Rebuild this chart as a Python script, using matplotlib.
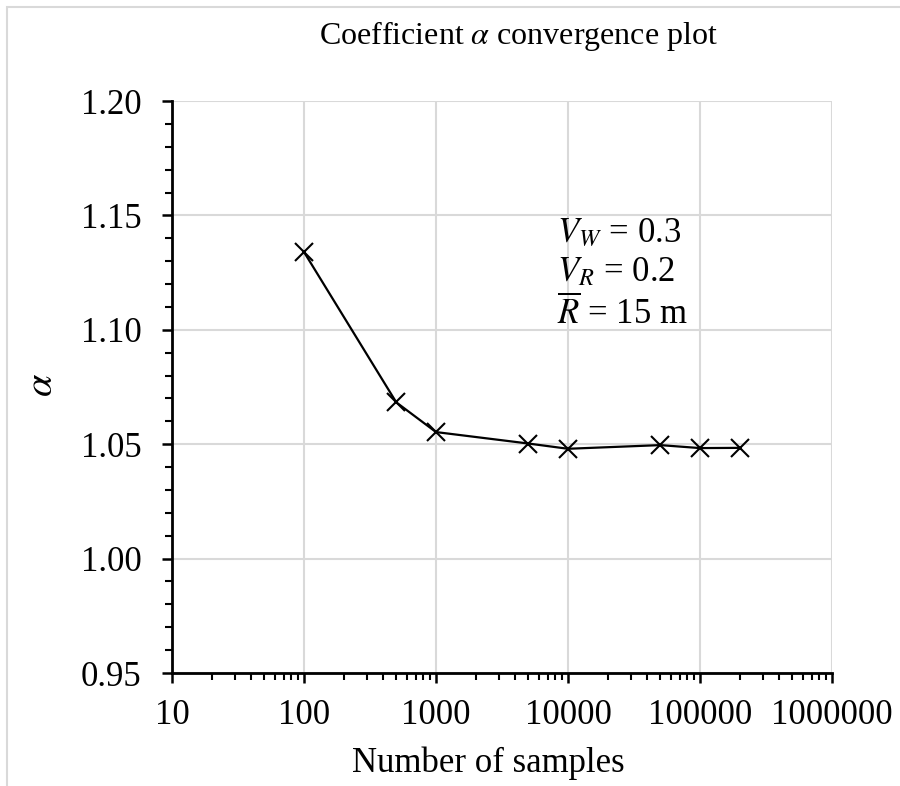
import matplotlib
matplotlib.use("Agg")
import matplotlib.pyplot as plt
from matplotlib.patches import Rectangle
from matplotlib.ticker import LogLocator, MultipleLocator, FixedLocator, FixedFormatter

plt.rcParams['font.family'] = ['Liberation Serif', 'DejaVu Serif']
plt.rcParams['mathtext.fontset'] = 'stix'

# convergence data
samples = [100, 500, 1000, 5000, 10000, 50000, 100000, 200000]
alpha = [1.134, 1.0683, 1.0553, 1.0503, 1.0480, 1.0496, 1.0483, 1.0484]

x_ticks = [10, 100, 1000, 10000, 100000, 1000000]
x_labels = ['10', '100', '1000', '10000', '100000', '1000000']
y_ticks = [0.95, 1.00, 1.05, 1.10, 1.15, 1.20]
y_labels = ['0.95', '1.00', '1.05', '1.10', '1.15', '1.20']

W, H = 900, 786
fig = plt.figure(figsize=(W / 100, H / 100), dpi=100)
ax = fig.add_axes([172 / W, 1 - 673 / H, 660 / W, 572 / H])

# outer chart frame
fig.patches.append(Rectangle((7 / W, -0.1), 1.2, 1 - 7 / H + 0.1,
                             transform=fig.transFigure, fill=False,
                             edgecolor='#d9d9d9', linewidth=1.5))

ax.plot(samples, alpha, color='black', linewidth=1.6, marker='x',
        markersize=13, markeredgewidth=1.5, zorder=3)

ax.set_xscale('log')
ax.set_xlim(10, 1000000)
ax.set_ylim(0.95, 1.20)

ax.xaxis.set_major_locator(FixedLocator(x_ticks))
ax.xaxis.set_major_formatter(FixedFormatter(x_labels))
ax.xaxis.set_minor_locator(LogLocator(base=10, subs=range(2, 10), numticks=20))
ax.xaxis.set_minor_formatter(plt.NullFormatter())
ax.yaxis.set_major_locator(FixedLocator(y_ticks))
ax.yaxis.set_major_formatter(FixedFormatter(y_labels))
ax.yaxis.set_minor_locator(MultipleLocator(0.01))

ax.grid(True, which='major', color='#d9d9d9', linewidth=1.5, zorder=0)
ax.set_axisbelow(True)

for side in ['top', 'right']:
    ax.spines[side].set_visible(False)
for side in ['left', 'bottom']:
    ax.spines[side].set_linewidth(2)
    ax.spines[side].set_zorder(4)

ax.tick_params(which='major', direction='out', length=7, width=1.8,
               labelsize=25, color='black')
ax.tick_params(which='minor', direction='out', length=5, width=1.5)
ax.tick_params(axis='x', which='major', pad=12)
ax.tick_params(axis='y', which='major', pad=15)

ax.set_xlabel('Number of samples', fontsize=25)
ax.xaxis.set_label_coords(0.479, -0.128)
ax.set_ylabel(r'$\alpha$', fontsize=29)
ax.yaxis.set_label_coords(-0.168, 0.503)

fig.text(518 / W, 1 - 36 / H, r'Coefficient $\alpha$ convergence plot',
         fontsize=23, ha='center', va='center')

ax.text(0.583, 1 - (242 - 101) / 572, r'$V_W$ = 0.3', transform=ax.transAxes,
        fontsize=25, va='baseline', ha='left')
ax.text(0.583, 1 - (281 - 101) / 572, r'$V_R$ = 0.2', transform=ax.transAxes,
        fontsize=25, va='baseline', ha='left')
ax.text(0.583, 1 - (324 - 101) / 572, r'$\overline{R}$ = 15 m', transform=ax.transAxes,
        fontsize=25, va='baseline', ha='left')

fig.savefig('out.png', dpi=100)
